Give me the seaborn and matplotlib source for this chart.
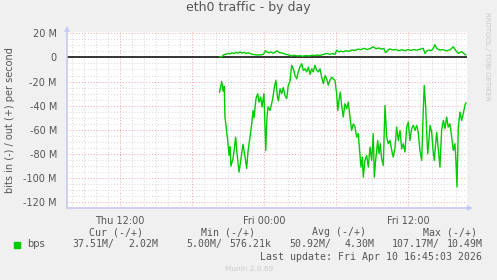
import matplotlib
matplotlib.use("Agg")
import matplotlib.pyplot as plt
import seaborn as sns
import pandas as pd
from matplotlib.ticker import MultipleLocator, FuncFormatter
from matplotlib.patches import Rectangle
from matplotlib.lines import Line2D

# ---------------- data (hours relative to Fri 00:00, values in Mbit/s) ----------------
in_hours = [-3.725, -3.54, -3.42, -3.33, -3.27, -3.14, -3.04, -2.93, -2.85, -2.77,
            -2.60, -2.48, -2.38, -2.27, -2.10, -1.93, -1.77, -1.60, -1.46, -1.35,
            -1.18, -1.04, -0.93, -0.85, -0.68, -0.54, -0.43, -0.29, -0.18, -0.02,
            0.13, 0.23, 0.32, 0.48, 0.63, 0.73, 0.86, 0.98, 1.11, 1.19,
            1.32, 1.46, 1.59, 1.73, 1.88, 2.01, 2.15, 2.29, 2.43, 2.57,
            2.71, 2.84, 2.98, 3.13, 3.26, 3.40, 3.54, 3.68, 3.82, 3.96,
            4.09, 4.23, 4.38, 4.51, 4.65, 4.79, 4.93, 5.07, 5.21, 5.34,
            5.48, 5.63, 5.76, 5.90, 6.04, 6.13, 6.23, 6.34, 6.46, 6.59,
            6.73, 6.88, 7.01, 7.15, 7.29, 7.43, 7.57, 7.71, 7.84, 7.98,
            8.07, 8.18, 8.26, 8.40, 8.54, 8.68, 8.82, 8.96, 9.09, 9.18,
            9.29, 9.46, 9.57, 9.68, 9.79, 9.93, 10.07, 10.21, 10.34, 10.48,
            10.63, 10.76, 10.90, 11.04, 11.18, 11.32, 11.46, 11.59, 11.73, 11.88,
            12.01, 12.15, 12.29, 12.43, 12.57, 12.71, 12.84, 12.98, 13.13, 13.26,
            13.34, 13.46, 13.54, 13.63, 13.73, 13.82, 13.96, 14.09, 14.18, 14.29,
            14.38, 14.51, 14.65, 14.79, 14.93, 15.07, 15.21, 15.34, 15.48, 15.63,
            15.76, 15.90, 15.98, 16.07, 16.18, 16.32, 16.46, 16.59, 16.73, 16.82]
in_mbps = [-29, -20, -28, -24, -49, -60, -69, -81, -74, -90,
           -84, -75, -66, -79, -95, -84, -72, -82, -92, -78,
           -66, -55, -44, -50, -34, -30, -37, -33, -41, -30,
           -77, -50, -41, -44, -38, -33, -24, -19, -33, -36,
           -26, -30, -25, -31.5, -34, -23, -20, -6.6, -9.4, -15,
           -17.7, -12, -8, -5.2, -10.8, -9.4, -12, -8, -14, -9.4,
           -12, -6.6, -10.8, -12, -9.4, -16.3, -21.8, -15, -17.7, -23,
           -19, -16.3, -17.7, -19, -30, -44, -35.6, -28.7, -39.8, -49.4,
           -38.4, -42.5, -37, -49.4, -60.5, -55, -57.7, -66, -63.2, -79.8,
           -90.9, -82.6, -99.2, -85.3, -81.2, -90.9, -74.3, -85.3, -63.2, -99.2,
           -85.3, -68.8, -79.8, -71.5, -84, -89.5, -39.8, -66, -71.5, -68.8,
           -77, -82.6, -75, -57.7, -68.8, -60.5, -75.7, -71.5, -78.4, -57.7,
           -53.6, -68.8, -59, -56.3, -60.5, -56.3, -61.9, -77, -85.3, -43.9,
           -23.2, -41.2, -60.5, -79.8, -68.8, -56.3, -61.9, -78.4, -85.3, -71.5,
           -62, -75.7, -90.9, -60.5, -52.2, -59, -49.4, -57.7, -55, -66,
           -77, -71.5, -85.3, -107.2, -57.7, -45.3, -52.2, -46.7, -39.8, -37.5]

out_hours = [-3.725, -3.52, -3.39, -3.18, -3.02, -2.85, -2.68, -2.52, -2.35, -2.18,
             -2.02, -1.85, -1.68, -1.52, -1.35, -1.18, -1.02, -0.77, -0.52, -0.27,
             -0.06, 0.11, 0.23, 0.40, 0.57, 0.73, 0.90, 1.07, 1.23, 1.40,
             1.61, 1.82, 2.07, 2.29, 2.48, 2.73, 2.98, 3.23, 3.48, 3.73,
             3.98, 4.23, 4.40, 4.65, 4.90, 5.21, 5.48, 5.73, 5.90, 6.04,
             6.23, 6.40, 6.57, 6.82, 7.07, 7.32, 7.57, 7.82, 8.07, 8.32,
             8.57, 8.82, 9.09, 9.32, 9.57, 9.82, 9.98, 10.11, 10.32, 10.48,
             10.73, 10.98, 11.23, 11.48, 11.73, 11.98, 12.23, 12.48, 12.73, 12.98,
             13.26, 13.40, 13.57, 13.73, 13.90, 14.07, 14.23, 14.40, 14.65, 14.90,
             15.15, 15.48, 15.76, 15.95, 16.18, 16.32, 16.46, 16.65, 16.82]
out_mbps = [0.6, 0.6, 2.0, 2.8, 3.3, 2.8, 3.8, 3.2, 4.2, 3.5,
            4.5, 3.6, 4.2, 3.2, 3.8, 3.3, 2.6, 2.2, 2.0, 2.1,
            2.5, 5.5, 4.5, 3.8, 4.5, 3.5, 4.2, 5.5, 4.0, 3.8,
            3.3, 2.5, 2.0, 1.1, 1.8, 1.2, 1.4, 1.0, 1.5, 1.2,
            1.8, 1.5, 2.0, 1.6, 2.4, 3.3, 2.6, 3.2, 2.5, 6.0,
            4.5, 5.2, 4.6, 5.5, 5.0, 6.2, 5.8, 6.8, 6.5, 7.5,
            6.6, 7.2, 8.8, 7.2, 7.8, 6.8, 7.4, 4.0, 6.0, 7.0,
            6.2, 6.5, 5.6, 6.4, 5.5, 6.6, 5.8, 6.5, 6.0, 6.8,
            7.5, 3.3, 5.5, 6.2, 5.5, 7.0, 10.5, 7.2, 6.0, 6.5,
            5.5, 6.2, 8.8, 6.0, 3.3, 4.0, 4.7, 3.2, 2.0]

x_tick_hours = [-12, 0, 12]
x_tick_labels = ["Thu 12:00", "Fri 00:00", "Fri 12:00"]
y_tick_values = [20, 0, -20, -40, -60, -80, -100, -120]
y_tick_labels = ["20 M", "0", "-20 M", "-40 M", "-60 M", "-80 M", "-100 M", "-120 M"]

title = "eth0 traffic - by day"
y_label = "bits in (-) / out (+) per second"
legend_name = "bps"
col_headers = ["Cur (-/+)", "Min (-/+)", "Avg (-/+)", "Max (-/+)"]
col_in = ["37.51M/", "5.00M/", "50.92M/", "107.17M/"]
col_out = ["2.02M", "576.21k", "4.30M", "10.49M"]
last_update = "Last update: Fri Apr 10 16:45:03 2026"
version = "Munin 2.0.69"
watermark = "RRDTOOL / TOBI OETIKER"

# ---------------- style ----------------
sns.set_theme(style="white")
plt.rcParams['font.family'] = ['DejaVu Sans']

W, H = 497, 280
TXT = '#555555'
GREEN = '#00CC00'
AXC = '#C8C8F4'
MONO = 'DejaVu Sans Mono'

fig = plt.figure(figsize=(W / 100, H / 100), dpi=100, facecolor='#F0F0F0')


def fx(x):
    return x / W


def fy(y):
    return 1 - y / H


L, R, T, B = 66.7, 467.3, 32.3, 208.3
ax = fig.add_axes([fx(L), fy(B), (R - L) / W, (B - T) / H])
ax.set_facecolor('white')

df_in = pd.DataFrame({'hour': in_hours, 'mbps': in_mbps})
df_out = pd.DataFrame({'hour': out_hours, 'mbps': out_mbps})

ax.axhline(0, color='black', lw=1.1, zorder=2)
sns.lineplot(data=df_in, x='hour', y='mbps', ax=ax, color=GREEN, lw=1.0,
             estimator=None, sort=False, zorder=3)
sns.lineplot(data=df_out, x='hour', y='mbps', ax=ax, color=GREEN, lw=1.0,
             estimator=None, sort=False, zorder=3)

ax.set_xlim(-16.46, 16.93)
ax.set_ylim(-125.0, 20.8)

ax.xaxis.set_major_locator(MultipleLocator(6))
ax.xaxis.set_minor_locator(MultipleLocator(1))
ax.yaxis.set_major_locator(MultipleLocator(20))
ax.yaxis.set_minor_locator(MultipleLocator(5))

xmap = dict(zip(x_tick_hours, x_tick_labels))
ymap = dict(zip(y_tick_values, y_tick_labels))
ax.xaxis.set_major_formatter(FuncFormatter(lambda v, p: xmap.get(int(round(v)), '')))
ax.yaxis.set_major_formatter(FuncFormatter(lambda v, p: ymap.get(int(round(v)), '')))

ax.set_axisbelow(True)
ax.grid(which='minor', color='#D6D6D6', ls=(0, (1, 2)), lw=0.7)
ax.grid(which='major', color='#F0A0A0', ls=(0, (1, 2)), lw=0.7)

ax.tick_params(which='both', axis='both', length=2, width=0.6, color='#BBBBBB',
               direction='out', labelsize=7, labelcolor=TXT)
ax.tick_params(axis='y', which='major', pad=5)
ax.tick_params(axis='x', which='major', pad=3.5)
ax.set_xlabel('')
ax.set_ylabel('')

for s in ['top', 'right']:
    ax.spines[s].set_visible(False)
for s in ['left', 'bottom']:
    ax.spines[s].set_color(AXC)
    ax.spines[s].set_linewidth(1.2)

# axis arrows
fig.add_artist(Line2D([fx(L), fx(L)], [fy(T), fy(T - 3)], color=AXC, lw=1.2))
fig.add_artist(Line2D([fx(R), fx(R + 3)], [fy(B), fy(B)], color=AXC, lw=1.2))
fig.add_artist(Line2D([fx(L)], [fy(T - 3)], marker='^', ms=5, color=AXC,
                      markeredgewidth=0, transform=fig.transFigure))
fig.add_artist(Line2D([fx(R + 3)], [fy(B)], marker='>', ms=5, color=AXC,
                      markeredgewidth=0, transform=fig.transFigure))

# texts
fig.text(fx(248), fy(8), title, ha='center', va='center', fontsize=9, color=TXT)
fig.text(fx(10), fy(120.3), y_label, ha='center', va='center', rotation=90,
         fontsize=7, color=TXT)
fig.text(fx(487), fy(56), watermark, ha='center', va='center', rotation=270,
         fontsize=5, color='#C8C8C8')

header_left = [89, 200.7, 312.3, 422.7]
in_left = [72.3, 186, 289.3, 391.7]
out_right = [158, 271, 375, 482.3]
for h, xh in zip(col_headers, header_left):
    fig.text(fx(xh), fy(232.3), h, ha='left', va='center', fontsize=7.1,
             family=MONO, color=TXT)
for v, xv in zip(col_in, in_left):
    fig.text(fx(xv), fy(244.3), v, ha='left', va='center', fontsize=7.1,
             family=MONO, color=TXT)
for v, xv in zip(col_out, out_right):
    fig.text(fx(xv), fy(244.3), v, ha='right', va='center', fontsize=7.1,
             family=MONO, color=TXT)
fig.text(fx(26.7), fy(244.3), legend_name, ha='left', va='center', fontsize=7.1,
         color=TXT)
fig.add_artist(Rectangle((fx(14), fy(247.7)), 6 / W, 6 / H, color=GREEN,
                         transform=fig.transFigure))
fig.text(fx(482.3), fy(257), last_update, ha='right', va='center', fontsize=7.1,
         family=MONO, color=TXT)
fig.text(fx(249), fy(269), version, ha='center', va='center', fontsize=5.3,
         color='#CCCCCC')

fig.savefig('out.png', dpi=100, facecolor=fig.get_facecolor())
